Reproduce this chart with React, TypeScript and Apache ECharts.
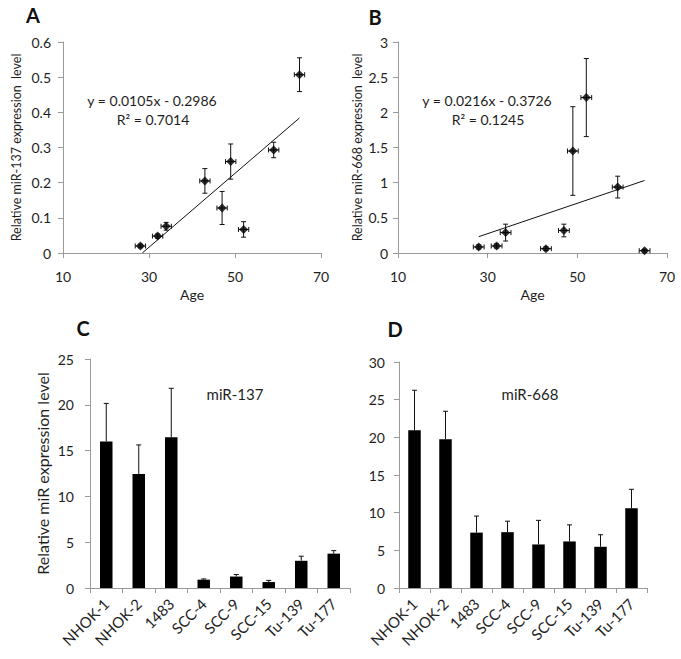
import React, { useEffect, useRef } from "react";
import * as echarts from "echarts";

// ---- Data ----
const ages = [28, 32, 34, 43, 47, 49, 52, 59, 65];
const ageErr = [1.2, 1.2, 1.2, 1.2, 1.2, 1.2, 1.2, 1.2, 1.2];
const mir137Level = [0.02, 0.048, 0.076, 0.205, 0.128, 0.26, 0.067, 0.293, 0.507];
const mir137LevelErr = [0.005, 0.006, 0.011, 0.035, 0.047, 0.05, 0.022, 0.022, 0.048];
const mir668Level = [0.086, 0.1, 0.29, 0.062, 0.32, 1.45, 2.21, 0.937, 0.033];
const mir668LevelErr = [0.03, 0.03, 0.12, 0.025, 0.09, 0.63, 0.555, 0.155, 0.02];
const trendA = [[28.44, 0], [65, 0.384]];
const trendB = [[28, 0.232], [65, 1.031]];
const eqA = ["y = 0.0105x - 0.2986", "R\u00B2 = 0.7014"];
const eqB = ["y = 0.0216x - 0.3726", "R\u00B2 = 0.1245"];

const cellLines = ["NHOK-1", "NHOK-2", "1483", "SCC-4", "SCC-9", "SCC-15", "Tu-139", "Tu-177"];
const mir137Bars = [16.0, 12.45, 16.45, 0.91, 1.25, 0.65, 2.97, 3.75];
const mir137BarsErr = [4.15, 3.17, 5.35, 0.08, 0.22, 0.18, 0.5, 0.33];
const mir668Bars = [20.95, 19.76, 7.35, 7.41, 5.78, 6.18, 5.47, 10.6];
const mir668BarsErr = [5.3, 3.7, 2.2, 1.46, 3.2, 2.2, 1.6, 2.5];

const FONT = "Lato";
const TXT = "#1e1e1e";
const AXIS = "#9a9a9a";

function scatterErr(params: any, api: any) {
  const x = api.value(0), y = api.value(1), ye = api.value(2), xe = api.value(3);
  const t = api.coord([x, y + ye]);
  const b = api.coord([x, y - ye]);
  const l = api.coord([x - xe, y]);
  const r = api.coord([x + xe, y]);
  const c = 2.5;
  const style = { stroke: "#111", lineWidth: 1 };
  const ln = (x1: number, y1: number, x2: number, y2: number) => ({ type: "line", shape: { x1, y1, x2, y2 }, style });
  return {
    type: "group",
    children: [
      ln(t[0], t[1], b[0], b[1]),
      ln(t[0] - c, t[1], t[0] + c, t[1]),
      ln(b[0] - c, b[1], b[0] + c, b[1]),
      ln(l[0], l[1], r[0], r[1]),
      ln(l[0], l[1] - c, l[0], l[1] + c),
      ln(r[0], r[1] - c, r[0], r[1] + c),
    ],
  };
}

function barErr(params: any, api: any) {
  const i = api.value(0), v = api.value(1), e = api.value(2);
  const t = api.coord([i, v + e]);
  const b = api.coord([i, v]);
  const c = 2.5;
  const style = { stroke: "#111", lineWidth: 1 };
  return {
    type: "group",
    children: [
      { type: "line", shape: { x1: t[0], y1: t[1], x2: b[0], y2: b[1] }, style },
      { type: "line", shape: { x1: t[0] - c, y1: t[1], x2: t[0] + c, y2: t[1] }, style },
    ],
  };
}

const axisCommon = {
  axisLine: { show: true, lineStyle: { color: AXIS, width: 1 } },
  axisTick: { show: true, length: 5, lineStyle: { color: AXIS } },
  splitLine: { show: false },
};

export default function App() {
  const ref = useRef<HTMLDivElement>(null);
  useEffect(() => {
    if (!ref.current) return;
    const chart = echarts.init(ref.current, null, { renderer: "svg" });
    const scatterA = ages.map((a, i) => [a, mir137Level[i]]);
    const scatterB = ages.map((a, i) => [a, mir668Level[i]]);
    const errA = ages.map((a, i) => [a, mir137Level[i], mir137LevelErr[i], ageErr[i]]);
    const errB = ages.map((a, i) => [a, mir668Level[i], mir668LevelErr[i], ageErr[i]]);
    const errC = cellLines.map((c, i) => [i, mir137Bars[i], mir137BarsErr[i]]);
    const errD = cellLines.map((c, i) => [i, mir668Bars[i], mir668BarsErr[i]]);

    const xValAxis = (gridIndex: number) => ({
      type: "value", gridIndex, min: 10, max: 70, interval: 20,
      ...axisCommon,
      axisLabel: { color: TXT, fontFamily: FONT, fontSize: 14, margin: 16 },
      name: "Age", nameLocation: "middle", nameGap: 34,
      nameTextStyle: { color: TXT, fontFamily: FONT, fontSize: 14 },
    });
    const catAxis = (gridIndex: number) => ({
      type: "category", gridIndex, data: cellLines,
      ...axisCommon,
      axisLabel: { color: TXT, fontFamily: FONT, fontSize: 15, rotate: 45, margin: 13, interval: 0 },
    });

    const option: any = {
      animation: false,
      backgroundColor: "#fff",
      grid: [
        { left: 63, top: 42, width: 258, height: 211 },
        { left: 398, top: 42, width: 269, height: 211 },
        { left: 90, top: 359, width: 260, height: 229 },
        { left: 399, top: 362, width: 248, height: 226 },
      ],
      xAxis: [xValAxis(0), xValAxis(1), catAxis(2), catAxis(3)],
      yAxis: [
        {
          type: "value", gridIndex: 0, min: 0, max: 0.6, interval: 0.1, ...axisCommon,
          axisLabel: { color: TXT, fontFamily: FONT, fontSize: 14, margin: 12 },
          name: "Relative miR-137 expression  level", nameLocation: "middle", nameGap: 40,
          nameTextStyle: { color: TXT, fontFamily: FONT, fontSize: 12.5 },
        },
        {
          type: "value", gridIndex: 1, min: 0, max: 3, interval: 0.5, ...axisCommon,
          axisLabel: { color: TXT, fontFamily: FONT, fontSize: 14, margin: 10 },
          name: "Relative miR-668 expression  level", nameLocation: "middle", nameGap: 34,
          nameTextStyle: { color: TXT, fontFamily: FONT, fontSize: 12.5 },
        },
        {
          type: "value", gridIndex: 2, min: 0, max: 25, interval: 5, ...axisCommon,
          axisLabel: { color: TXT, fontFamily: FONT, fontSize: 14, margin: 16 },
          name: "Relative miR expression level", nameLocation: "middle", nameGap: 40,
          nameTextStyle: { color: TXT, fontFamily: FONT, fontSize: 16 },
        },
        {
          type: "value", gridIndex: 3, min: 0, max: 30, interval: 5, ...axisCommon,
          axisLabel: { color: TXT, fontFamily: FONT, fontSize: 14, margin: 14 },
        },
      ],
      series: [
        { type: "line", xAxisIndex: 0, yAxisIndex: 0, data: trendA, showSymbol: false, symbol: "none", lineStyle: { color: "#111", width: 1 }, z: 2 },
        { type: "custom", xAxisIndex: 0, yAxisIndex: 0, data: errA, renderItem: scatterErr, z: 3 },
        { type: "scatter", xAxisIndex: 0, yAxisIndex: 0, data: scatterA, symbol: "diamond", symbolSize: 9, itemStyle: { color: "#000" }, z: 4 },
        { type: "line", xAxisIndex: 1, yAxisIndex: 1, data: trendB, showSymbol: false, symbol: "none", lineStyle: { color: "#111", width: 1 }, z: 2 },
        { type: "custom", xAxisIndex: 1, yAxisIndex: 1, data: errB, renderItem: scatterErr, z: 3 },
        { type: "scatter", xAxisIndex: 1, yAxisIndex: 1, data: scatterB, symbol: "diamond", symbolSize: 9, itemStyle: { color: "#000" }, z: 4 },
        { type: "bar", xAxisIndex: 2, yAxisIndex: 2, data: mir137Bars, barWidth: 12.5, itemStyle: { color: "#000" } },
        { type: "custom", xAxisIndex: 2, yAxisIndex: 2, data: errC, renderItem: barErr, z: 3 },
        { type: "bar", xAxisIndex: 3, yAxisIndex: 3, data: mir668Bars, barWidth: 12.5, itemStyle: { color: "#000" } },
        { type: "custom", xAxisIndex: 3, yAxisIndex: 3, data: errD, renderItem: barErr, z: 3 },
      ],
      graphic: [
        { type: "text", x: 33, y: 15, style: { text: "A", font: `bold 20px ${FONT}`, fill: "#111", align: "center", verticalAlign: "middle" } },
        { type: "text", x: 375, y: 17, style: { text: "B", font: `bold 20px ${FONT}`, fill: "#111", align: "center", verticalAlign: "middle" } },
        { type: "text", x: 83, y: 328, style: { text: "C", font: `bold 20px ${FONT}`, fill: "#111", align: "center", verticalAlign: "middle" } },
        { type: "text", x: 395, y: 329, style: { text: "D", font: `bold 20px ${FONT}`, fill: "#111", align: "center", verticalAlign: "middle" } },
        { type: "text", x: 152, y: 100, style: { text: eqA[0], font: `14px ${FONT}`, fill: TXT, align: "center", verticalAlign: "middle" } },
        { type: "text", x: 153, y: 119, style: { text: eqA[1], font: `14px ${FONT}`, fill: TXT, align: "center", verticalAlign: "middle" } },
        { type: "text", x: 487, y: 100, style: { text: eqB[0], font: `14px ${FONT}`, fill: TXT, align: "center", verticalAlign: "middle" } },
        { type: "text", x: 488, y: 119, style: { text: eqB[1], font: `14px ${FONT}`, fill: TXT, align: "center", verticalAlign: "middle" } },
        { type: "text", x: 235, y: 394, style: { text: "miR-137", font: `15px ${FONT}`, fill: TXT, align: "center", verticalAlign: "middle" } },
        { type: "text", x: 530, y: 394, style: { text: "miR-668", font: `15px ${FONT}`, fill: TXT, align: "center", verticalAlign: "middle" } },
      ],
    };
    chart.setOption(option);
    return () => chart.dispose();
  }, []);
  return <div ref={ref} style={{ position: "absolute", left: 0, top: 0, width: 681, height: 659 }} />;
}
